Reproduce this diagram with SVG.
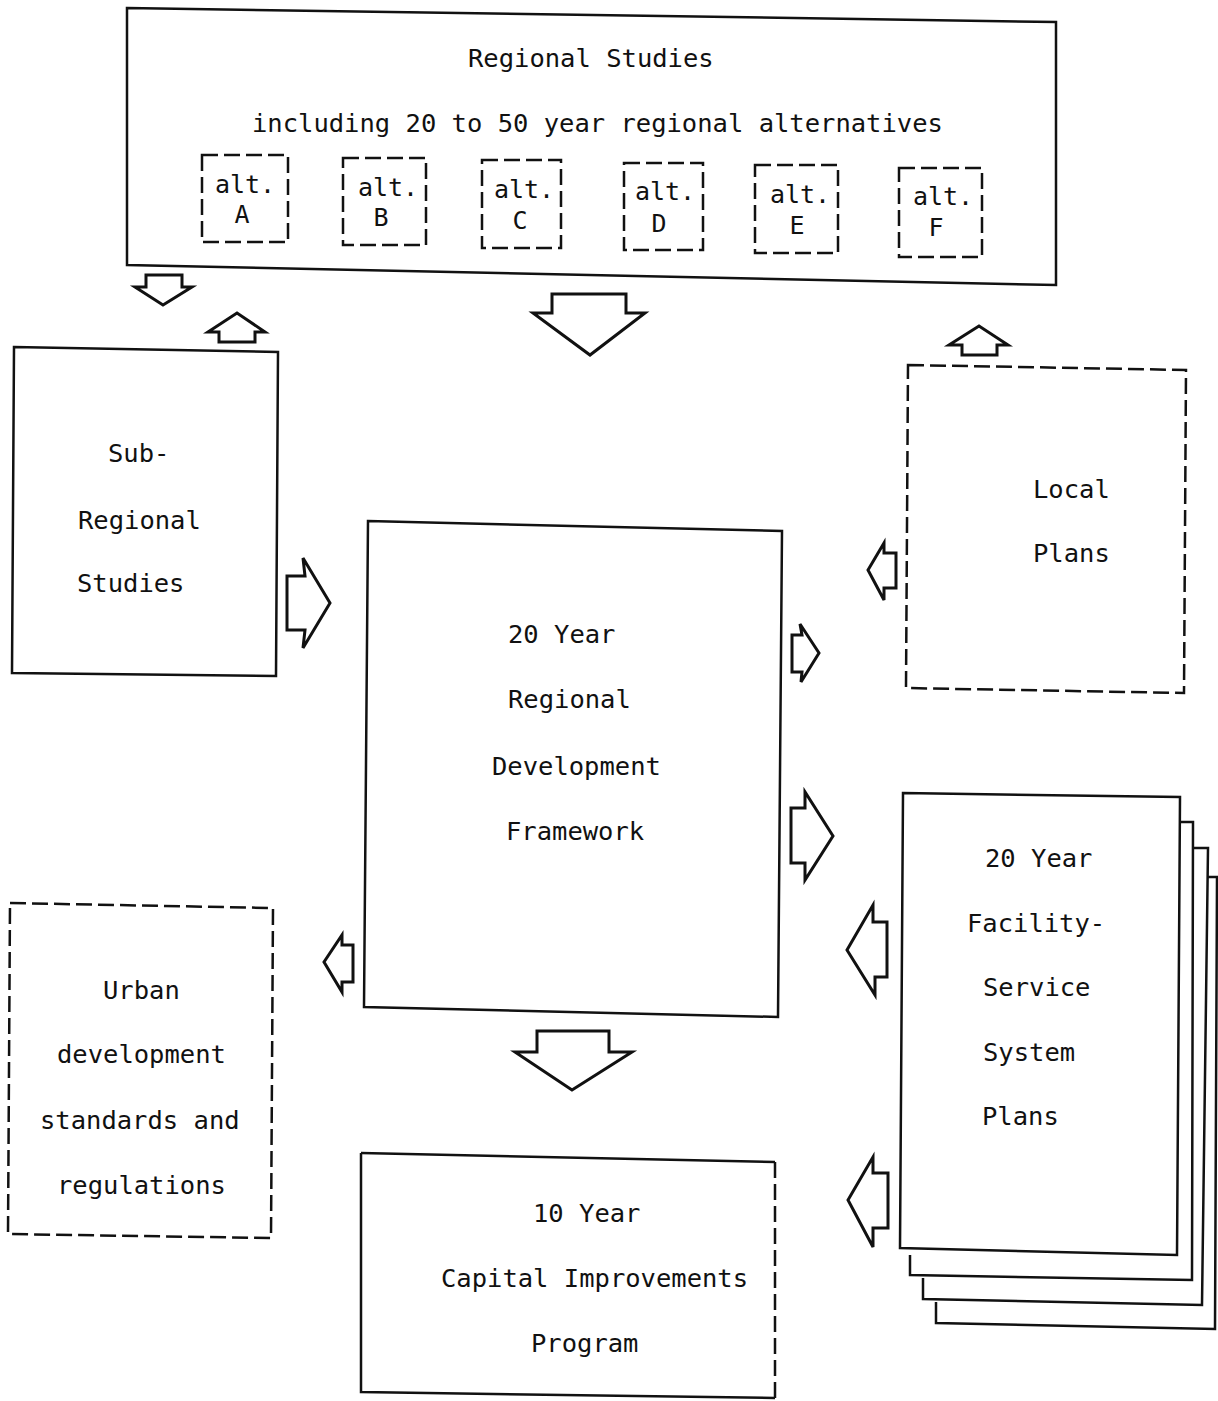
<svg xmlns="http://www.w3.org/2000/svg" width="1218" height="1401" viewBox="0 0 1218 1401">
<style>
.t{font-family:"DejaVu Sans Mono","Liberation Mono",monospace;font-size:25.5px;fill:#111}
.a{font-family:"DejaVu Sans Mono","Liberation Mono",monospace;font-size:25px;fill:#111;text-anchor:middle}
.s{fill:none;stroke:#111;stroke-width:2.5}
.d{fill:none;stroke:#111;stroke-width:2.5;stroke-dasharray:16 6}
.ar{fill:#fff;stroke:#111;stroke-width:3;stroke-linejoin:miter}
</style>
<rect width="1218" height="1401" fill="#fff"/>
<g id="regional-studies">
<polygon class="s" points="127,8 1056,22 1056,285 127,265"/>
<text class="t" x="468" y="67">Regional Studies</text>
<text class="t" x="252" y="132">including 20 to 50 year regional alternatives</text>
</g>
<g id="alt-a"><rect class="d" x="202" y="155" width="86" height="87"/><text class="a" x="245" y="193">alt.</text><text class="a" x="242" y="223">A</text></g>
<g id="alt-b"><rect class="d" x="343" y="158" width="83" height="87"/><text class="a" x="388" y="196">alt.</text><text class="a" x="381" y="226">B</text></g>
<g id="alt-c"><rect class="d" x="482" y="160" width="79" height="88"/><text class="a" x="524" y="198">alt.</text><text class="a" x="520" y="229">C</text></g>
<g id="alt-d"><rect class="d" x="624" y="163" width="79" height="87"/><text class="a" x="665" y="200">alt.</text><text class="a" x="659" y="232">D</text></g>
<g id="alt-e"><rect class="d" x="755" y="165" width="83" height="88"/><text class="a" x="800" y="203">alt.</text><text class="a" x="797" y="234">E</text></g>
<g id="alt-f"><rect class="d" x="899" y="168" width="83" height="89"/><text class="a" x="943" y="205">alt.</text><text class="a" x="936" y="236">F</text></g>
<g id="sub-regional">
<polygon class="s" points="14,347 278,352 276,676 12,673"/>
<text class="t" x="108" y="462">Sub-</text>
<text class="t" x="78" y="529">Regional</text>
<text class="t" x="77" y="592">Studies</text>
</g>
<g id="framework">
<polygon class="s" points="368,521 782,531 778,1017 364,1007"/>
<text class="t" x="508" y="643">20 Year</text>
<text class="t" x="508" y="708">Regional</text>
<text class="t" x="492" y="775">Development</text>
<text class="t" x="506" y="840">Framework</text>
</g>
<g id="local-plans">
<polygon class="d" points="908,365 1186,370 1184,693 906,688"/>
<text class="t" x="1033" y="498">Local</text>
<text class="t" x="1033" y="562">Plans</text>
</g>
<g id="facility-plans">
<polyline class="s" points="936,1302 936,1323 1215,1329 1217,877 1208,877"/>
<polyline class="s" points="923,1278 923,1299 1202,1305 1208,848 1193,848"/>
<polyline class="s" points="910,1255 910,1275 1192,1280 1193,822 1180,822"/>
<polygon class="s" points="903,793 1180,797 1177,1255 900,1248" fill="#fff"/>
<text class="t" x="985" y="867">20 Year</text>
<text class="t" x="967" y="932">Facility-</text>
<text class="t" x="983" y="996">Service</text>
<text class="t" x="983" y="1061">System</text>
<text class="t" x="982" y="1125">Plans</text>
</g>
<g id="urban-standards">
<polygon class="d" points="10,903 273,908 271,1238 8,1234"/>
<text class="t" x="103" y="999">Urban</text>
<text class="t" x="57" y="1063">development</text>
<text class="t" x="40" y="1129">standards and</text>
<text class="t" x="57" y="1194">regulations</text>
</g>
<g id="capital-program">
<polyline class="s" points="361,1153 775,1162"/>
<polyline class="d" points="775,1162 775,1398"/>
<polyline class="s" points="361,1153 361,1392 775,1398"/>
<text class="t" x="533" y="1222">10 Year</text>
<text class="t" x="441" y="1287">Capital Improvements</text>
<text class="t" x="531" y="1352">Program</text>
</g>
<g id="connectors">
<path class="ar" d="M146,275 L182,275 L182,287 L192,287 L163,305 L135,287 L146,287 Z"/>
<path class="ar" d="M219,342 L255,342 L255,332 L265,332 L237,313 L208,332 L219,332 Z"/>
<path class="ar" d="M552,294 L626,294 L626,313 L645,313 L590,355 L533,313 L552,313 Z"/>
<path class="ar" d="M287,576 L305,576 L303,558 L330,603 L303,648 L305,630 L287,630 Z"/>
<path class="ar" d="M792,635 L802,635 L800,624 L819,653 L801,682 L802,672 L792,672 Z"/>
<path class="ar" d="M791,808 L805,808 L805,792 L833,836 L805,880 L805,863 L791,863 Z"/>
<path class="ar" d="M887,922 L873,922 L873,905 L847,950 L875,995 L875,977 L887,977 Z"/>
<path class="ar" d="M888,1173 L873,1173 L873,1157 L848,1200 L873,1247 L873,1228 L888,1228 Z"/>
<path class="ar" d="M896,553 L884,553 L884,543 L868,570 L884,600 L884,588 L896,588 Z"/>
<path class="ar" d="M353,945 L342,945 L342,935 L324,962 L342,992 L342,982 L353,982 Z"/>
<path class="ar" d="M537,1031 L609,1031 L609,1052 L632,1052 L572,1090 L515,1052 L537,1052 Z"/>
<path class="ar" d="M962,355 L997,355 L997,345 L1008,345 L979,326 L949,345 L962,345 Z"/>
</g>
</svg>
